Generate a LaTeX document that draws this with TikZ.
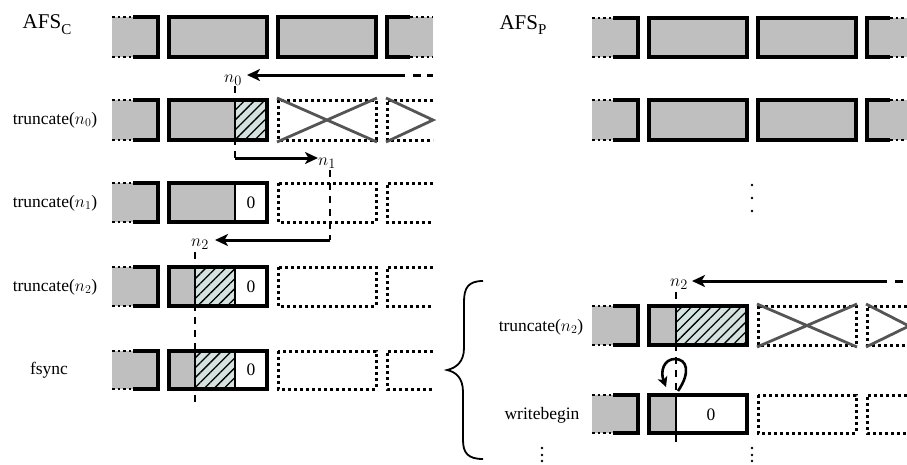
\documentclass[tikz,border=0pt]{standalone}
\usepackage{fontspec}
\setmainfont{Liberation Serif}
\usetikzlibrary{arrows.meta,patterns.meta}
\definecolor{hatchfill}{RGB}{213,227,224}
\definecolor{crossgray}{RGB}{85,85,85}

\begin{document}
\begin{tikzpicture}[
                x=1pt, y=-1pt,
                gry/.style={fill=gray!50},
                edge/.style={line width=3.2pt},
                thinedge/.style={line width=1.6pt},
                dotln/.style={line width=2.8pt, dash pattern=on 2.6pt off 3pt},
                dotbox/.style={line width=3pt, dash pattern=on 3pt off 3pt},
                hatch/.style={preaction={fill=hatchfill}, pattern={Lines[angle=45, distance=7pt, line width=1.3pt]}},
                cross/.style={draw=crossgray, line width=2.8pt},
                guide/.style={line width=2.6pt, dash pattern=on 7pt off 6pt},
                arr/.style={line width=3pt, -{Stealth[length=13pt, width=12pt, inset=3.5pt]}},
                lbl/.style={font=\fontsize{17.5}{19}\selectfont, inner sep=0pt},
                offs/.style={font=\fontsize{19}{20}\selectfont, inner sep=0pt},
                title/.style={font=\fontsize{21}{24}\selectfont, inner sep=0pt}
            ]
                \useasboundingbox (0,0) rectangle (907,464);

                % Dashed offset guides (drawn first, boxes cover them)
                \draw[guide] (235,86) -- (235,158);
                \draw[guide] (330,170) -- (330,240);
                \draw[guide] (195,252) -- (195,404);
                \draw[guide] (676,292) -- (676,447);

                % ---------------- AFS_C ----------------
                \node[title] (afsc) at (47,25) {AFS\raisebox{-0.28em}{\fontsize{15}{16}\selectfont C}};

                % Row 1: initial file
                \fill[gry] (112,17) rectangle (158,57);
                \draw[edge] (133,17) -| (158,57) -- (133,57);
                \draw[dotln] (112,17) -- (133,17) (112,57) -- (133,57);
                \draw[edge, gry] (169,17) rectangle (267,57) (278,17) rectangle (376,57);
                \fill[gry] (387,17) rectangle (433,57);
                \draw[edge] (410,17) -| (387,57) -- (410,57);
                \draw[dotln] (410,17) -- (433,17) (410,57) -- (433,57);

                % Row 2: truncate(n0)
                \node[lbl] (trc0) at (55,120) {truncate($n_0$)};
                \fill[gry] (112,100) rectangle (158,140);
                \draw[edge] (133,100) -| (158,140) -- (133,140);
                \draw[dotln] (112,100) -- (133,100) (112,140) -- (133,140);
                \fill[gry] (169,100) rectangle (235,140);
                \path[hatch] (235,100) rectangle (267,140);
                \draw[edge] (169,100) rectangle (267,140);
                \draw[thinedge] (235,100) -- (235,140);
                \draw[dotbox] (278,100) rectangle (376,140);
                \draw[dotbox] (433,100) -- (387,100) -- (387,140) -- (433,140);
                \draw[cross] (277,98) -- (377,142) (277,142) -- (377,98);
                \draw[cross] (386,98) -- (433,120) -- (386,142);

                % Row 3: truncate(n1)
                \node[lbl] (trc1) at (55,203) {truncate($n_1$)};
                \fill[gry] (112,183) rectangle (158,222);
                \draw[edge] (133,183) -| (158,222) -- (133,222);
                \draw[dotln] (112,183) -- (133,183) (112,222) -- (133,222);
                \fill[gry] (169,183) rectangle (235,222);
                \draw[edge] (169,183) rectangle (267,222);
                \draw[thinedge] (235,183) -- (235,222);
                \node[lbl] (zero1) at (251,203) {0};
                \draw[dotbox] (278,183) rectangle (376,222);
                \draw[dotbox] (433,183) -- (387,183) -- (387,222) -- (433,222);

                % Row 4: truncate(n2)
                \node[lbl] (trc2) at (55,287) {truncate($n_2$)};
                \fill[gry] (112,267) rectangle (158,306);
                \draw[edge] (133,267) -| (158,306) -- (133,306);
                \draw[dotln] (112,267) -- (133,267) (112,306) -- (133,306);
                \fill[gry] (169,267) rectangle (195,306);
                \path[hatch] (195,267) rectangle (235,306);
                \draw[edge] (169,267) rectangle (267,306);
                \draw[thinedge] (195,267) -- (195,306) (235,267) -- (235,306);
                \node[lbl] (zero2) at (251,287) {0};
                \draw[dotbox] (278,267) rectangle (376,306);
                \draw[dotbox] (433,267) -- (387,267) -- (387,306) -- (433,306);

                % Row 5: fsync
                \node[lbl] (fsync) at (49,370) {fsync};
                \fill[gry] (112,351) rectangle (158,389);
                \draw[edge] (133,351) -| (158,389) -- (133,389);
                \draw[dotln] (112,351) -- (133,351) (112,389) -- (133,389);
                \fill[gry] (169,351) rectangle (195,389);
                \path[hatch] (195,351) rectangle (235,389);
                \draw[edge] (169,351) rectangle (267,389);
                \draw[thinedge] (195,351) -- (195,389) (235,351) -- (235,389);
                \node[lbl] (zero3) at (251,370) {0};
                \draw[dotbox] (278,351) rectangle (376,389);
                \draw[dotbox] (433,351) -- (387,351) -- (387,389) -- (433,389);

                % Offset labels and moves on the left
                \node[offs] (n0) at (233,80) {$n_0$};
                \node[offs] (n1) at (327,163) {$n_1$};
                \node[offs] (n2) at (200,244) {$n_2$};
                \coordinate (s0) at (405,75);
                \coordinate (e0) at (247,75);
                \coordinate (s1) at (235,158);
                \coordinate (e1) at (318,158);
                \coordinate (s2) at (330,240);
                \coordinate (e2) at (215,240);
                \draw[arr] (s0) -- (e0);
                \draw[line width=3pt, dash pattern=on 8pt off 6pt] (413,75) -- (433,75);
                \draw[arr] (s1) -- (e1);
                \draw[arr] (s2) -- (e2);

                % ---------------- AFS_P ----------------
                \node[title] (afsp) at (523,25) {AFS\raisebox{-0.28em}{\fontsize{15}{16}\selectfont P}};

                % Row 1
                \fill[gry] (592,18) rectangle (638,57);
                \draw[edge] (613,18) -| (638,57) -- (613,57);
                \draw[dotln] (592,18) -- (613,18) (592,57) -- (613,57);
                \draw[edge, gry] (649,18) rectangle (747,57) (758,18) rectangle (856,57);
                \fill[gry] (867,18) rectangle (907,57);
                \draw[edge] (890,18) -| (867,57) -- (890,57);
                \draw[dotln] (890,18) -- (907,18) (890,57) -- (907,57);

                % Row 2
                \fill[gry] (592,100) rectangle (638,140);
                \draw[edge] (613,100) -| (638,140) -- (613,140);
                \draw[dotln] (592,100) -- (613,100) (592,140) -- (613,140);
                \draw[edge, gry] (649,100) rectangle (747,140) (758,100) rectangle (856,140);
                \fill[gry] (867,100) rectangle (907,140);
                \draw[edge] (890,100) -| (867,140) -- (890,140);
                \draw[dotln] (890,100) -- (907,100) (890,140) -- (907,140);

                % Omitted rows
                \fill (752,185) circle (1.4) (752,198) circle (1.4) (752,211) circle (1.4);

                % Row 3: truncate(n2)
                \node[lbl] (ptrc2) at (541,327) {truncate($n_2$)};
                \fill[gry] (592,306) rectangle (638,345);
                \draw[edge] (613,306) -| (638,345) -- (613,345);
                \draw[dotln] (592,306) -- (613,306) (592,345) -- (613,345);
                \fill[gry] (649,306) rectangle (676,345);
                \path[hatch] (676,306) rectangle (747,345);
                \draw[edge] (649,306) rectangle (747,345);
                \draw[thinedge] (676,306) -- (676,345);
                \draw[dotbox] (758,306) rectangle (856,345);
                \draw[dotbox] (907,306) -- (867,306) -- (867,345) -- (907,345);
                \draw[cross] (757,304) -- (857,347) (757,347) -- (857,304);
                \draw[cross] (866,304) -- (909,326) -- (866,347);

                % Row 4: writebegin
                \node[lbl] (wbeg) at (542,415) {writebegin};
                \fill[gry] (592,395) rectangle (638,433);
                \draw[edge] (613,395) -| (638,433) -- (613,433);
                \draw[dotln] (592,395) -- (613,395) (592,433) -- (613,433);
                \fill[gry] (649,395) rectangle (676,433);
                \draw[edge] (649,395) rectangle (747,433);
                \draw[thinedge] (676,395) -- (676,433);
                \node[lbl] (zero4) at (711,415) {0};
                \draw[dotbox] (758,395) rectangle (856,433);
                \draw[dotbox] (907,395) -- (867,395) -- (867,433) -- (907,433);

                % Continuation dots
                \fill (542,448) circle (1.3) (542,455) circle (1.3) (542,461) circle (1.3);
                \fill (752,448) circle (1.3) (752,455) circle (1.3) (752,461) circle (1.3);

                % Offset move on the right and the self loop
                \node[offs] (pn2) at (679,284) {$n_2$};
                \coordinate (s3) at (887,281);
                \coordinate (e3) at (692,281);
                \draw[arr] (s3) -- (e3);
                \draw[line width=3pt, dash pattern=on 8pt off 6pt] (895,281) -- (907,281);
                \draw[line width=2.6pt, -{Stealth[length=10pt, width=10pt, inset=2.5pt]}]
                    (678,391) .. controls (691,372) and (687,359) .. (675,359)
                    .. controls (664,359) and (660,371) .. (666,387);

                % Brace grouping the two rows
                \draw[line width=1.8pt] (483,281) .. controls (468,281) and (464,288) .. (464,302)
                    -- (464,348) .. controls (464,362) and (456,368) .. (447,370)
                    .. controls (456,372) and (463,378) .. (463,392)
                    -- (463,440) .. controls (463,453) and (468,459) .. (483,459);

            \end{tikzpicture}
\end{document}
